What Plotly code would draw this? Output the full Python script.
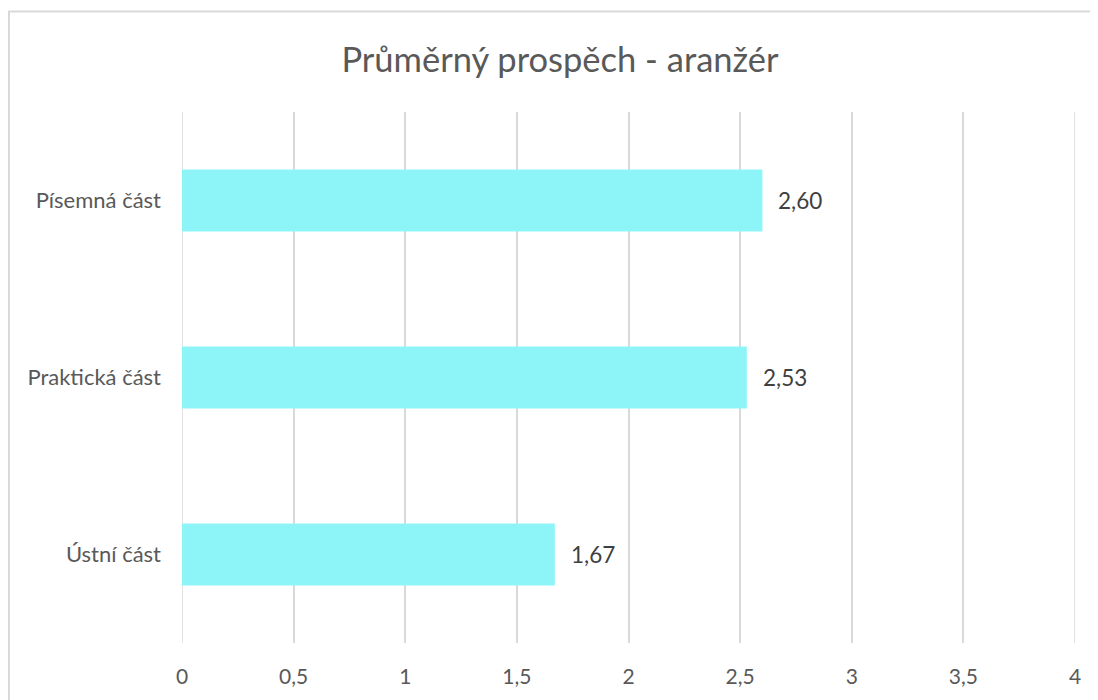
import plotly.graph_objects as go

categories = ["Písemná část", "Praktická část", "Ústní část"]
values = [2.60, 2.53, 1.67]
tick_vals = [0, 0.5, 1, 1.5, 2, 2.5, 3, 3.5, 4]
tick_text = ["0", "0,5", "1", "1,5", "2", "2,5", "3", "3,5", "4"]
labels = [f"{v:.2f}".replace(".", ",") for v in values]

FONT = "Lato, Open Sans, DejaVu Sans, sans-serif"
GRID = "#d9d9d9"

fig = go.Figure(go.Bar(
    y=categories, x=values, orientation="h",
    marker=dict(color="#8DF5F7", line=dict(width=0)),
    hoverinfo="skip",
))

for c, v, t in zip(categories, values, labels):
    fig.add_annotation(x=v, y=c, text=t, showarrow=False, xanchor="left",
                       xshift=14, font=dict(size=22.5, color="#404040", family=FONT))

# gridlines at the range edges (plotly omits them)
for tv in (tick_vals[0], tick_vals[-1]):
    fig.add_shape(type="line", xref="x", yref="paper", x0=tv, x1=tv, y0=0, y1=1,
                  line=dict(color=GRID, width=1.5), layer="below")

# body has an 8px margin in the page, so the figure is offset by 8px
W, H = 1090, 692
ml, mr, mt, mb = 174, 23, 104, 55
pw, ph = W - ml - mr, H - mt - mb

fig.update_layout(
    width=W, height=H,
    margin=dict(l=ml, r=mr, t=mt, b=mb),
    paper_bgcolor="white", plot_bgcolor="white",
    bargap=0.65,
    showlegend=False,
    title=dict(text="Průměrný prospěch - aranžér", x=552 / W, xanchor="center",
               y=1 - 52 / H, yanchor="middle",
               font=dict(size=34.5, color="#595959", family=FONT)),
    xaxis=dict(range=[0, 4], tickvals=tick_vals, ticktext=tick_text,
               showgrid=True, gridcolor=GRID, gridwidth=1.5,
               zeroline=False, showline=False, ticks="",
               tickfont=dict(size=21, color="#595959", family=FONT),
               ticklabelstandoff=19, fixedrange=True),
    yaxis=dict(autorange="reversed", showgrid=False, showline=False, ticks="",
               tickfont=dict(size=22, color="#595959", family=FONT),
               ticklabelstandoff=20, fixedrange=True),
)

# chart frame border
fig.add_shape(type="rect", xref="paper", yref="paper",
              x0=(1 - ml) / pw, x1=(W + 20 - ml) / pw,
              y0=-(mb + 20) / ph, y1=(H - 3 - mb) / ph,
              line=dict(color=GRID, width=2), fillcolor="rgba(0,0,0,0)",
              layer="below")

fig.write_html("out.html")
